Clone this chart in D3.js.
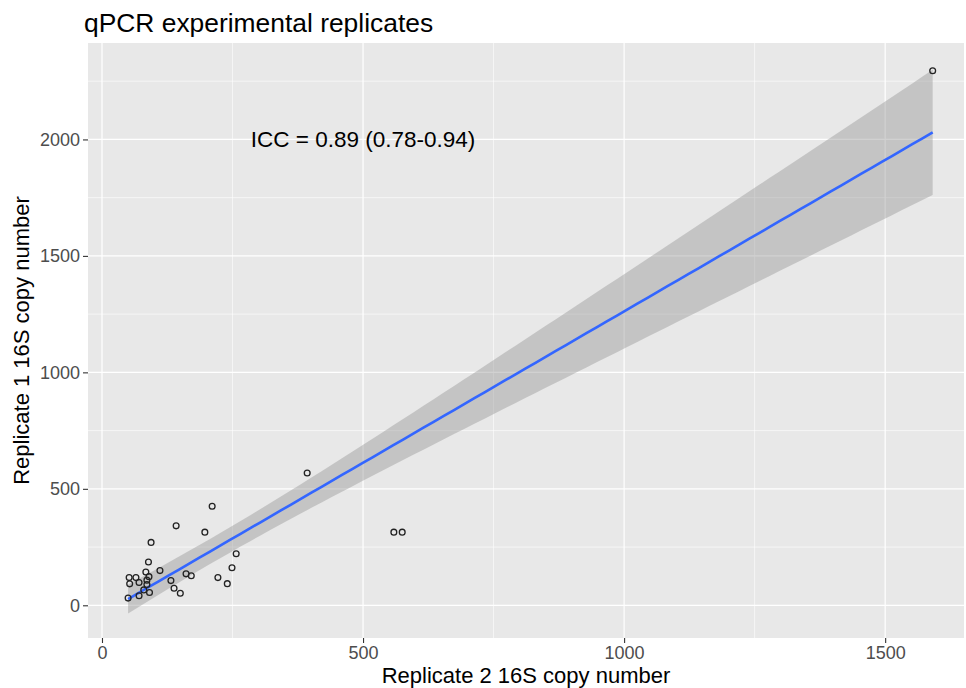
<!DOCTYPE html>
<html>
<head>
<meta charset="utf-8">
<script src="https://cdn.jsdelivr.net/npm/d3@7"></script>
<style>
	body { margin: 0; background: #fff; }
	svg { display: block; font-family: "Liberation Sans", Arial, sans-serif; }
</style>
</head>
<body>
<svg width="966" height="688"></svg>
<script>
// replicate 2 (x) and replicate 1 (y) copy numbers
const rep2 = [211, 142, 197, 94, 257, 89, 249, 111, 84, 90, 52, 65, 161, 171, 71, 86, 53, 132, 222, 240, 138, 150, 91, 71, 50, 80, 86, 393, 559, 575, 1591];
const rep1 = [425, 341, 314, 270, 221, 186, 161, 149, 143, 123, 119, 119, 135, 127, 98, 108, 92, 106, 119, 93, 73, 52, 55, 41, 31, 66, 89, 568, 314, 314, 2295];

const xTicks = [0, 500, 1000, 1500];
const yTicks = [0, 500, 1000, 1500, 2000];
const xMinor = [250, 750, 1250];
const yMinor = [250, 750, 1250, 1750, 2250];

const titel = "qPCR experimental replicates";
const xLabel = "Replicate 2 16S copy number";
const yLabel = "Replicate 1 16S copy number";
const iccLabel = "ICC = 0.89 (0.78-0.94)";

const svg = d3.select("svg");
const margin = { top: 43, right: 2, bottom: 50, left: 88 };
const width = 966 - margin.left - margin.right;
const height = 688 - margin.top - margin.bottom;

const x = d3.scaleLinear([-26.8, 1651], [0, width]);
const y = d3.scaleLinear([-140.4, 2414], [height, 0]);

// lineaire regressie met 95% betrouwbaarheidsband (zoals geom_smooth method = "lm")
const data = rep2.map((v, i) => ({ x: v, y: rep1[i] }));
const n = data.length;
const xm = d3.mean(data, d => d.x);
const ym = d3.mean(data, d => d.y);
const sxx = d3.sum(data, d => (d.x - xm) ** 2);
const sxy = d3.sum(data, d => (d.x - xm) * (d.y - ym));
const b = sxy / sxx;
const a = ym - b * xm;
const s = Math.sqrt(d3.sum(data, d => (d.y - a - b * d.x) ** 2) / (n - 2));
const tq = 2.045; // t(0.975, df = 29)

const [xLo, xHi] = d3.extent(rep2);
const fit = d3.range(80).map(i => {
	const xv = xLo + (xHi - xLo) * i / 79;
	const se = s * Math.sqrt(1 / n + (xv - xm) ** 2 / sxx);
	const yv = a + b * xv;
	return { x: xv, y: yv, lo: yv - tq * se, hi: yv + tq * se };
});

const g = svg.append("g")
	.attr("transform", `translate(${margin.left},${margin.top})`);

g.append("rect")
	.attr("width", width)
	.attr("height", height)
	.attr("fill", "#E8E8E8");

g.append("g")
	.selectAll("line")
	.data(xMinor)
	.join("line")
	.attr("x1", d => x(d)).attr("x2", d => x(d))
	.attr("y1", 0).attr("y2", height)
	.attr("stroke", "#fff").attr("stroke-width", 0.6);

g.append("g")
	.selectAll("line")
	.data(yMinor)
	.join("line")
	.attr("x1", 0).attr("x2", width)
	.attr("y1", d => y(d)).attr("y2", d => y(d))
	.attr("stroke", "#fff").attr("stroke-width", 0.6);

g.append("g")
	.selectAll("line")
	.data(xTicks)
	.join("line")
	.attr("x1", d => x(d)).attr("x2", d => x(d))
	.attr("y1", 0).attr("y2", height)
	.attr("stroke", "#fff").attr("stroke-width", 1.2);

g.append("g")
	.selectAll("line")
	.data(yTicks)
	.join("line")
	.attr("x1", 0).attr("x2", width)
	.attr("y1", d => y(d)).attr("y2", d => y(d))
	.attr("stroke", "#fff").attr("stroke-width", 1.2);

g.append("path")
	.attr("fill", "#999")
	.attr("fill-opacity", 0.45)
	.attr("d", d3.area().x(d => x(d.x)).y0(d => y(d.lo)).y1(d => y(d.hi))(fit));

g.append("path")
	.attr("fill", "none")
	.attr("stroke", "#3366FF")
	.attr("stroke-width", 2.6)
	.attr("d", d3.line().x(d => x(d.x)).y(d => y(d.y))(fit));

g.append("g")
	.selectAll("circle")
	.data(data)
	.join("circle")
	.attr("cx", d => x(d.x))
	.attr("cy", d => y(d.y))
	.attr("r", 2.9)
	.attr("fill", "none")
	.attr("stroke", "#222")
	.attr("stroke-width", 1.3);

g.append("text")
	.attr("x", x(500))
	.attr("y", y(2000))
	.attr("dy", "0.35em")
	.attr("text-anchor", "middle")
	.attr("font-size", 22.5)
	.attr("fill", "#000")
	.text(iccLabel);

const xAxis = d3.axisBottom(x).tickValues(xTicks).tickFormat(d3.format("d")).tickSize(5).tickPadding(3);
const yAxis = d3.axisLeft(y).tickValues(yTicks).tickFormat(d3.format("d")).tickSize(5).tickPadding(3);

const gX = g.append("g")
	.attr("transform", `translate(0,${height})`)
	.call(xAxis);
const gY = g.append("g").call(yAxis);

[gX, gY].forEach(ax => {
	ax.select(".domain").remove();
	ax.selectAll(".tick line").attr("stroke", "#333").attr("stroke-width", 1.1);
	ax.selectAll(".tick text")
		.attr("fill", "#4D4D4D")
		.attr("font-size", 18)
		.attr("font-family", "Liberation Sans, Arial, sans-serif");
});

svg.append("text")
	.attr("x", margin.left + width / 2)
	.attr("y", 683)
	.attr("text-anchor", "middle")
	.attr("font-size", 22)
	.text(xLabel);

svg.append("text")
	.attr("transform", `translate(29,${margin.top + height / 2}) rotate(-90)`)
	.attr("text-anchor", "middle")
	.attr("font-size", 22)
	.text(yLabel);

svg.append("text")
	.attr("x", 84)
	.attr("y", 32)
	.attr("font-size", 26.4)
	.text(titel);
</script>
</body>
</html>
